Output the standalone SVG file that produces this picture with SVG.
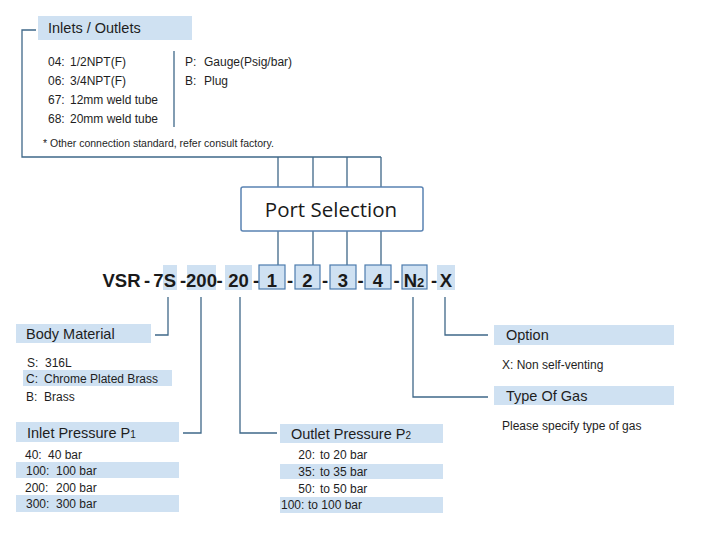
<svg xmlns="http://www.w3.org/2000/svg" width="703" height="537" viewBox="0 0 703 537">
<style>
.bg{fill:#ffffff}
.hl{fill:#cfe1f2}
.cb{fill:#cfe1f2;stroke:#4d7cae;stroke-width:1.2}
.ln{fill:none;stroke:#3f6889;stroke-width:1.3}
.hd{font-family:"Liberation Sans",Arial,sans-serif;font-size:14.5px;fill:#1e1e1e}
.it{font-family:"Liberation Sans",Arial,sans-serif;font-size:12px;fill:#1e1e1e}
.ie{font-family:"Liberation Sans",Arial,sans-serif;font-size:12px;fill:#1e1e1e;text-anchor:end}
.nt{font-family:"Liberation Sans",Arial,sans-serif;font-size:10.5px;fill:#1e1e1e}
.cd{font-family:"Liberation Sans",Arial,sans-serif;font-size:18.5px;font-weight:bold;fill:#1a1a1a;text-anchor:middle}
.ps{font-family:"Open Sans","Noto Sans",sans-serif;font-size:20.5px;fill:#1a1a1a;text-anchor:middle}
</style>
<rect class="bg" x="0" y="0" width="703" height="537"/>

<g id="connectors">
  <path class="ln" d="M36,30 H22 V157 H381"/>
  <path class="ln" d="M278,157 V187 M313,157 V187 M347,157 V187 M381,157 V187"/>
  <path class="ln" d="M278,231 V265 M313,231 V265 M347,231 V265 M381,231 V265"/>
  <path class="ln" d="M168,297 V335 H155"/>
  <path class="ln" d="M201,297 V433 H183"/>
  <path class="ln" d="M240,297 V433 H277"/>
  <path class="ln" d="M413,297 V397 H488"/>
  <path class="ln" d="M445,297 V335 H488"/>
</g>

<g id="inlets-outlets">
  <rect class="hl" x="38" y="16" width="154" height="24"/>
  <text class="hd" x="48" y="33">Inlets / Outlets</text>
  <text class="it" x="48" y="66">04:</text><text class="it" x="70" y="66">1/2NPT(F)</text>
  <text class="it" x="48" y="84.5">06:</text><text class="it" x="70" y="84.5">3/4NPT(F)</text>
  <text class="it" x="48" y="103.5">67:</text><text class="it" x="70" y="103.5">12mm weld tube</text>
  <text class="it" x="48" y="122.5">68:</text><text class="it" x="70" y="122.5">20mm weld tube</text>
  <line class="ln" x1="174" y1="51" x2="174" y2="127"/>
  <text class="it" x="185" y="66">P:</text><text class="it" x="204" y="66">Gauge(Psig/bar)</text>
  <text class="it" x="185" y="84.5">B:</text><text class="it" x="204" y="84.5">Plug</text>
  <text class="nt" x="43" y="147">* Other connection standard, refer consult factory.</text>
</g>

<g id="port-selection">
  <rect x="241" y="187" width="182" height="44" rx="2" fill="#ffffff" stroke="#5a83b3" stroke-width="1.5"/>
  <text class="ps" x="331" y="217">Port Selection</text>
</g>

<g id="code">
  <rect class="hl" x="163" y="265" width="14" height="25"/>
  <rect class="hl" x="187" y="265" width="29" height="25"/>
  <rect class="hl" x="225" y="265" width="27" height="25"/>
  <rect class="cb" x="259" y="265" width="26" height="24"/>
  <rect class="cb" x="295" y="265" width="25" height="24"/>
  <rect class="cb" x="330" y="265" width="26" height="24"/>
  <rect class="cb" x="365" y="265" width="26" height="24"/>
  <rect class="cb" x="402" y="265" width="25" height="24"/>
  <rect class="hl" x="437" y="265" width="18" height="25"/>
  <text class="cd" x="121.5" y="287">VSR</text>
  <text class="cd" x="147" y="287">-</text>
  <text class="cd" x="158.5" y="287">7</text>
  <text class="cd" x="170" y="287">S</text>
  <text class="cd" x="183" y="287">-</text>
  <text class="cd" x="201.5" y="287">200</text>
  <text class="cd" x="219.5" y="287">-</text>
  <text class="cd" x="238.5" y="287">20</text>
  <text class="cd" x="256" y="287">-</text>
  <text class="cd" x="272" y="287">1</text>
  <text class="cd" x="290" y="287">-</text>
  <text class="cd" x="307.5" y="287">2</text>
  <text class="cd" x="325" y="287">-</text>
  <text class="cd" x="343" y="287">3</text>
  <text class="cd" x="360.5" y="287">-</text>
  <text class="cd" x="378" y="287">4</text>
  <text class="cd" x="396.5" y="287">-</text>
  <text class="cd" x="414" y="287">N<tspan font-size="13px">2</tspan></text>
  <text class="cd" x="434" y="287">-</text>
  <text class="cd" x="446" y="287">X</text>
</g>

<g id="body-material">
  <rect class="hl" x="16" y="324" width="135" height="19"/>
  <text class="hd" x="26" y="339">Body Material</text>
  <text class="it" x="27" y="367">S:</text><text class="it" x="45" y="367">316L</text>
  <rect class="hl" x="23" y="370" width="149" height="16"/>
  <text class="it" x="26" y="382.5">C:</text><text class="it" x="44" y="382.5">Chrome Plated Brass</text>
  <text class="it" x="26" y="400.5">B:</text><text class="it" x="44" y="400.5">Brass</text>
</g>

<g id="inlet-pressure">
  <rect class="hl" x="16" y="422" width="163" height="20"/>
  <text class="hd" x="27" y="437.5">Inlet Pressure P<tspan font-size="10px">1</tspan></text>
  <text class="it" x="25" y="459">40:</text><text class="it" x="48" y="459">40 bar</text>
  <rect class="hl" x="16" y="462" width="163" height="16"/>
  <text class="it" x="26" y="475">100:</text><text class="it" x="56" y="475">100 bar</text>
  <text class="it" x="25" y="492">200:</text><text class="it" x="56" y="492">200 bar</text>
  <rect class="hl" x="16" y="495" width="163" height="17"/>
  <text class="it" x="26" y="508">300:</text><text class="it" x="56" y="508">300 bar</text>
</g>

<g id="outlet-pressure">
  <rect class="hl" x="280" y="424" width="163" height="19"/>
  <text class="hd" x="291" y="439">Outlet Pressure P<tspan font-size="10px">2</tspan></text>
  <text class="ie" x="315" y="459">20:</text><text class="it" x="320" y="459">to 20 bar</text>
  <rect class="hl" x="280" y="464" width="163" height="15"/>
  <text class="ie" x="315" y="475.5">35:</text><text class="it" x="320" y="475.5">to 35 bar</text>
  <text class="ie" x="315" y="492.5">50:</text><text class="it" x="320" y="492.5">to 50 bar</text>
  <rect class="hl" x="280" y="497" width="163" height="16"/>
  <text class="it" x="281" y="509">100:</text><text class="it" x="308" y="509">to 100 bar</text>
</g>

<g id="option">
  <rect class="hl" x="494" y="325" width="180" height="20"/>
  <text class="hd" x="506" y="340">Option</text>
  <text class="it" x="502" y="369">X: Non self-venting</text>
</g>

<g id="type-of-gas">
  <rect class="hl" x="494" y="386" width="180" height="19"/>
  <text class="hd" x="506" y="401">Type Of Gas</text>
  <text class="it" x="502" y="430">Please specify type of gas</text>
</g>
</svg>
